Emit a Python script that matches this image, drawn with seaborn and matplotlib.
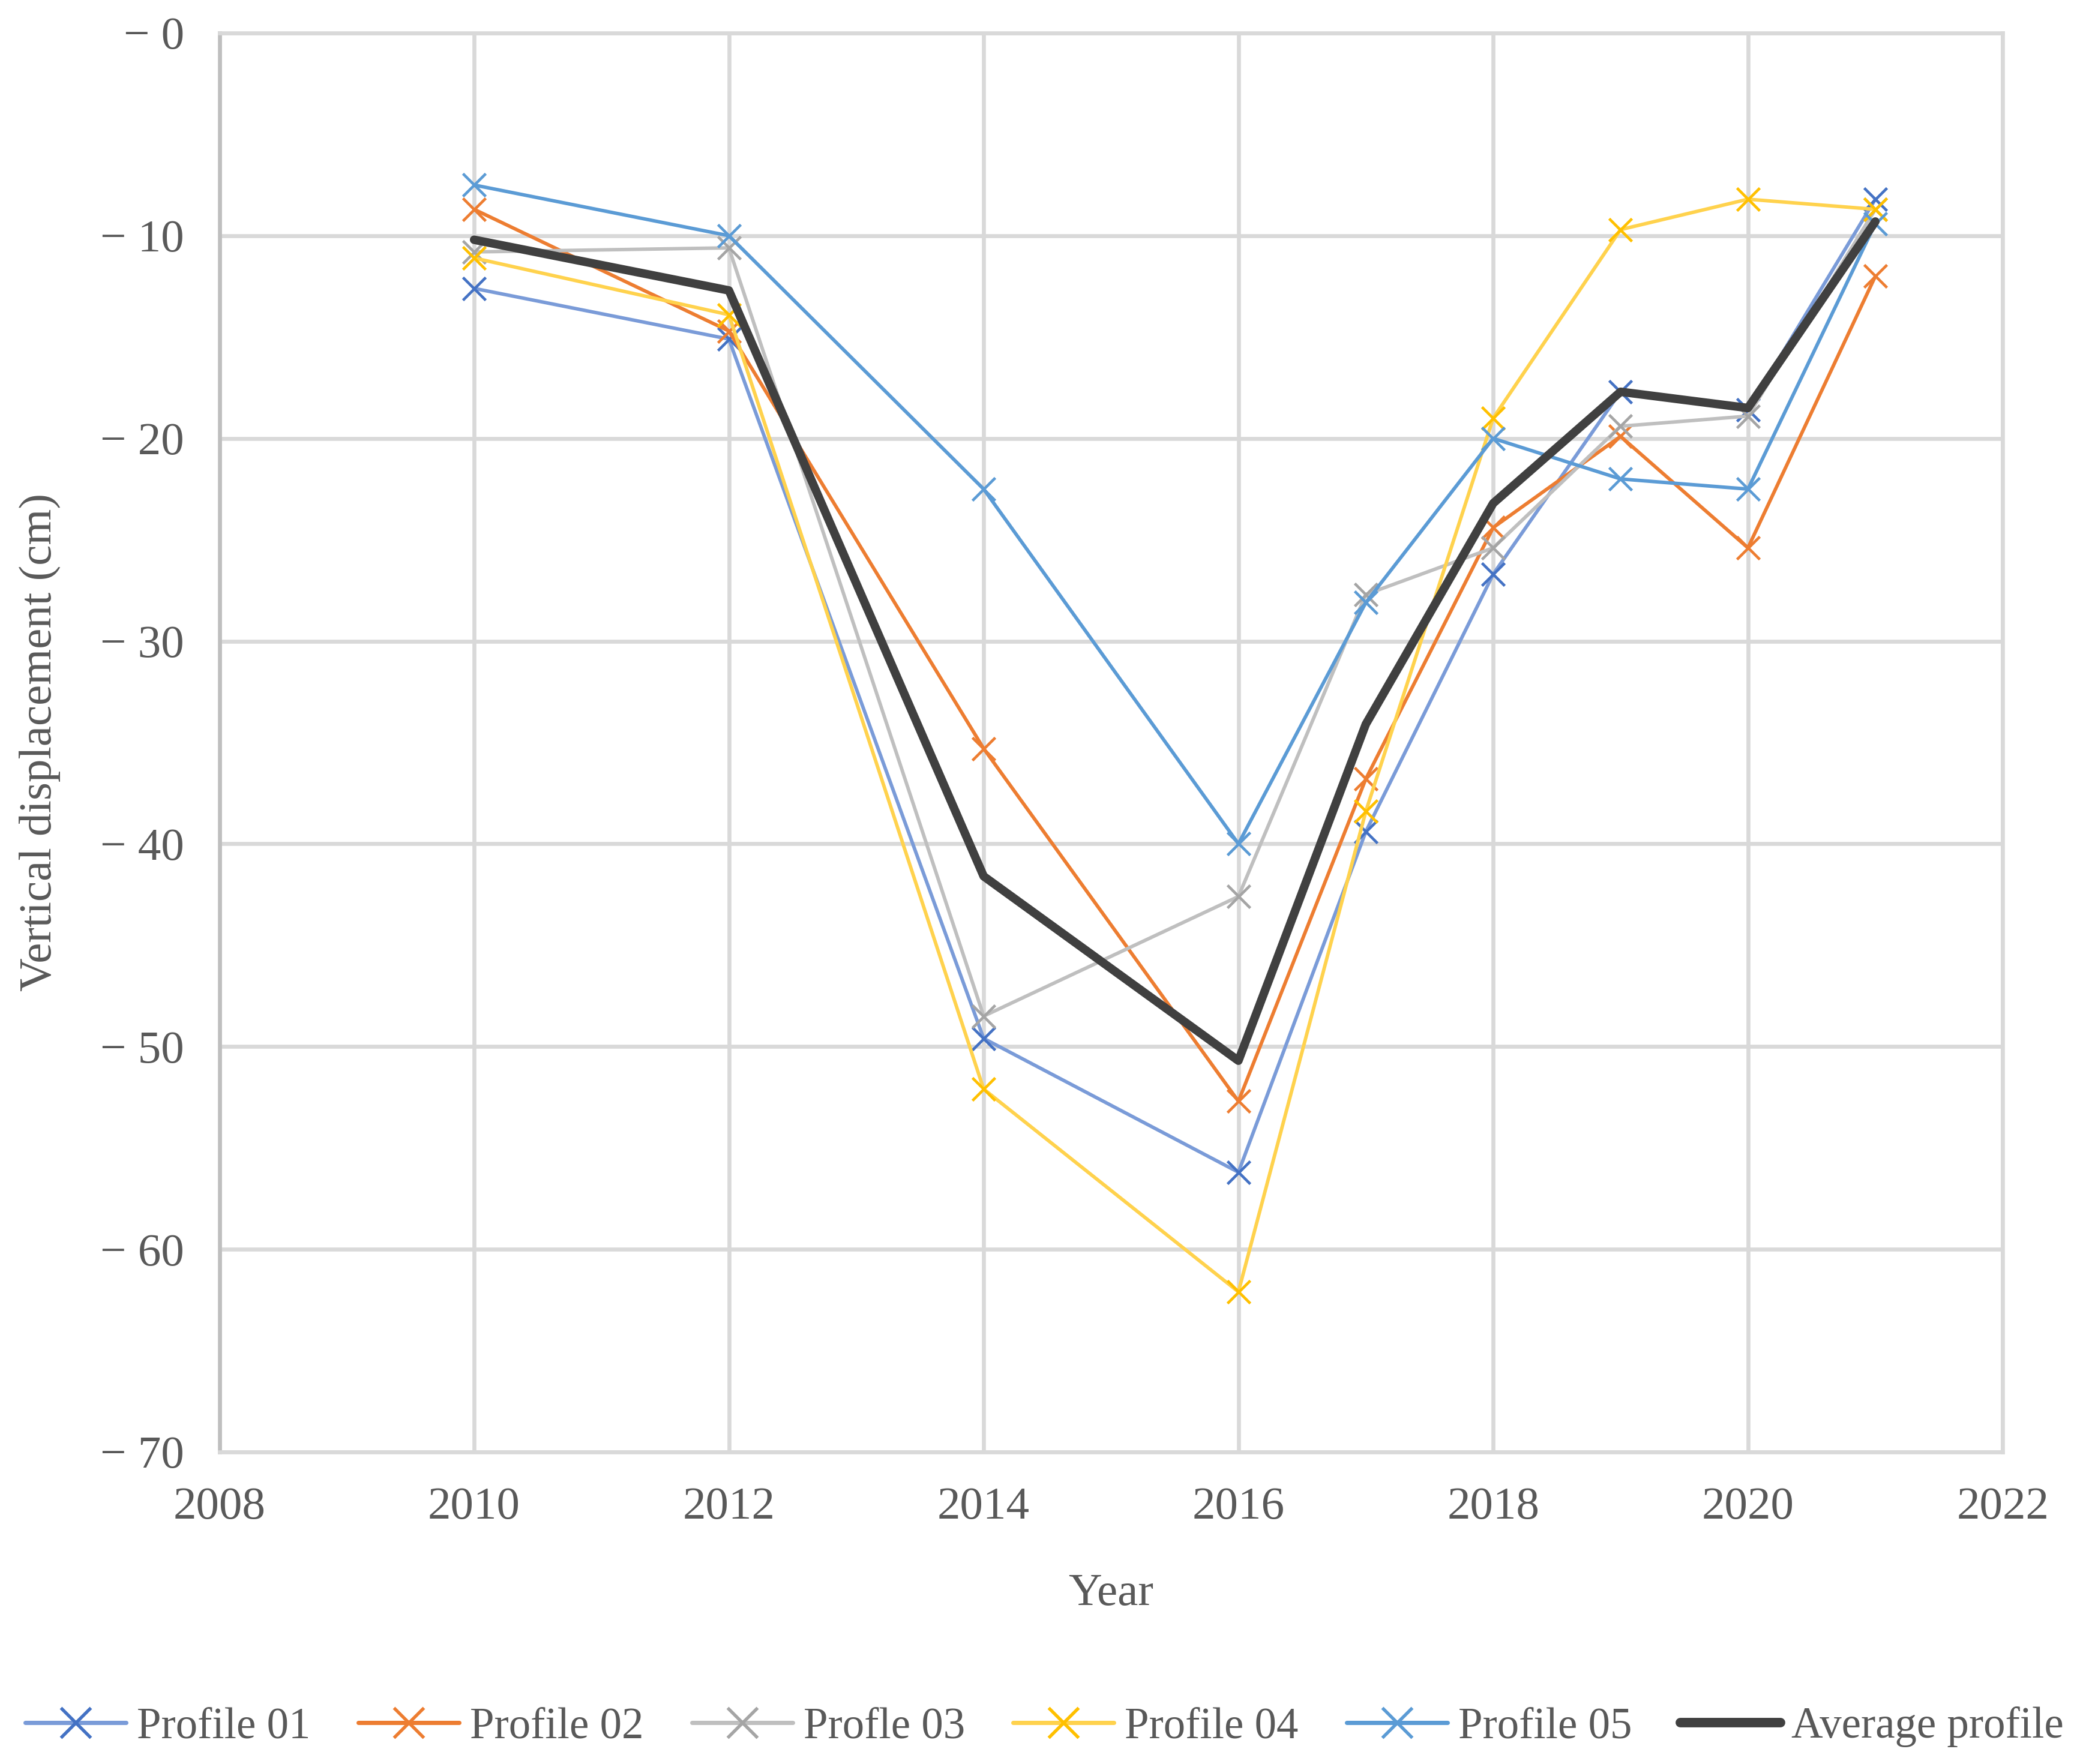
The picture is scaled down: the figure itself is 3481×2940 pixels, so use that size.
import matplotlib
matplotlib.use("Agg")
import matplotlib.pyplot as plt
import seaborn as sns
import pandas as pd
from matplotlib.lines import Line2D

years = [2010, 2012, 2014, 2016, 2017, 2018, 2019, 2020, 2021]
profile_01 = [-12.6, -15.1, -49.6, -56.2, -39.4, -26.7, -17.7, -18.6, -8.2]
profile_02 = [-8.7, -14.7, -35.3, -52.7, -36.8, -24.4, -19.9, -25.4, -12.0]
profile_03 = [-10.8, -10.6, -48.5, -42.6, -27.7, -25.4, -19.4, -18.9, -8.7]
profile_04 = [-11.1, -13.9, -52.1, -62.1, -38.4, -19.0, -9.7, -8.2, -8.7]
profile_05 = [-7.5, -10.0, -22.5, -40.0, -28.1, -20.0, -22.0, -22.5, -9.4]
average = [-10.2, -12.7, -41.6, -50.7, -34.1, -23.2, -17.7, -18.5, -9.3]

labels = ["Profile 01", "Profile 02", "Profle 03", "Profile 04", "Profile 05", "Average profile"]
colors = ["#4472C4", "#ED7D31", "#A5A5A5", "#FFC000", "#5B9BD5", "#404040"]
line_colors = ["#7A9BD8", "#ED7D31", "#BFBFBF", "#FFD24D", "#5B9BD5", "#404040"]
series = [profile_01, profile_02, profile_03, profile_04, profile_05, average]

y_ticks = [0, -10, -20, -30, -40, -50, -60, -70]
y_ticklabels = ["\u2212 0", "\u2212 10", "\u2212 20", "\u2212 30", "\u2212 40", "\u2212 50", "\u2212 60", "\u2212 70"]
x_ticks = [2008, 2010, 2012, 2014, 2016, 2018, 2020, 2022]

sns.set_theme(style="white")
plt.rcParams["font.family"] = ["Liberation Serif", "DejaVu Serif"]
txt = "#595959"
fs = 18.5

fig = plt.figure(figsize=(3481 / 300, 2940 / 300), dpi=300)
ax = fig.add_axes([0.105, 0.1769, 0.8537, 0.8044])

handles = []
for lab, vals, mc, lc in zip(labels, series, colors, line_colors):
    df = pd.DataFrame({"Year": years, "Value": vals})
    is_avg = lab == "Average profile"
    sns.lineplot(data=df, x="Year", y="Value", ax=ax, color=lc,
                 linewidth=3.4 if is_avg else 1.4,
                 marker=None if is_avg else "x",
                 markersize=9, markeredgewidth=1.1,
                 markeredgecolor=mc, markerfacecolor=mc,
                 zorder=4 if is_avg else 3, legend=False)
    handles.append(Line2D([0], [0], color=lc, linewidth=3.8 if is_avg else 1.7,
                          marker=None if is_avg else "x", markersize=12,
                          markeredgewidth=1.3, markeredgecolor=mc))

ax.set_xlim(2008, 2022)
ax.set_ylim(-70, 0)
ax.set_xticks(x_ticks)
ax.set_xticklabels([str(v) for v in x_ticks])
ax.set_yticks(y_ticks)
ax.set_yticklabels(y_ticklabels)
ax.grid(True, color="#D9D9D9", linewidth=1.6)
ax.set_axisbelow(True)
for side, sp in ax.spines.items():
    sp.set_color("#D9D9D9")
    sp.set_linewidth(1.6)
ax.spines["left"].set_color("#BFBFBF")
ax.tick_params(axis="both", length=0, labelsize=fs, labelcolor=txt)
ax.tick_params(axis="x", pad=14)
ax.tick_params(axis="y", pad=14)
ax.set_xlabel("Year", fontsize=fs, color=txt, labelpad=18)
ax.set_ylabel("Vertical displacement (cm)", fontsize=fs, color=txt, labelpad=16)

fig.legend(handles, labels, loc="center", bbox_to_anchor=(0.5, 0.021),
           ncol=6, frameon=False, fontsize=17.5, labelcolor=txt,
           handlelength=2.3, handletextpad=0.25, columnspacing=1.1)

fig.savefig("out.png", dpi=300)
